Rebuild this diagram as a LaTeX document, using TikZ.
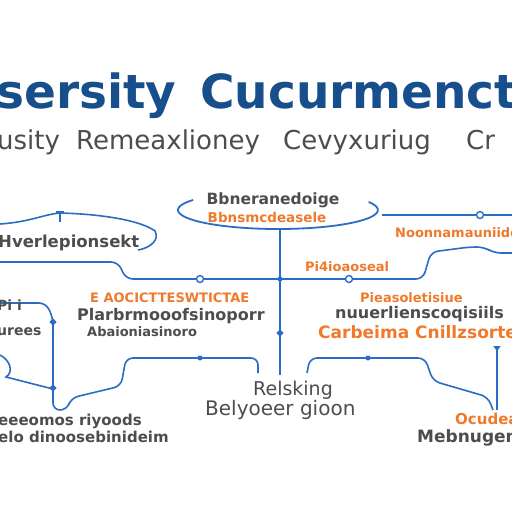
\documentclass[tikz,border=0pt]{standalone}
\usepackage{fontspec}
\setmainfont{DejaVu Sans}
\usetikzlibrary{arrows.meta,positioning}
\definecolor{titleblue}{HTML}{174E8C}
\definecolor{wireblue}{HTML}{2B6CC4}
\definecolor{accent}{HTML}{F07A2C}
\definecolor{textgray}{HTML}{4D4D4D}
\tikzset{
    headline/.style={
        font=\bfseries\fontsize{47}{47}\selectfont,
        color=titleblue,
        inner sep=0pt,
        anchor=base west
    },
    subline/.style={
        font=\fontsize{26}{26}\selectfont,
        color=textgray,
        inner sep=0pt,
        anchor=base west
    },
    graylabel/.style={
        font=\bfseries\fontsize{14}{14}\selectfont,
        color=textgray,
        inner sep=0pt,
        anchor=west
    },
    orangelabel/.style={
        font=\bfseries\fontsize{13}{13}\selectfont,
        color=accent,
        inner sep=0pt,
        anchor=west
    },
    wire/.style={
        wireblue,
        line width=1.6pt,
        rounded corners=7pt
    },
    knot/.style={
        circle,
        draw=wireblue,
        fill=white,
        line width=1.4pt,
        inner sep=0pt,
        minimum size=7pt
    },
    joint/.style={
        circle,
        fill=wireblue,
        inner sep=0pt,
        minimum size=5pt
    },
    stud/.style={
        rectangle,
        rotate=45,
        fill=wireblue,
        inner sep=0pt,
        minimum size=5pt
    }
}

\begin{document}
\begin{tikzpicture}[x=1pt,y=-1pt]

    % Fond
    \fill[white] (0,0) rectangle (512,512);
    \useasboundingbox (0,0) rectangle (512,512);

    % Titre
    \node[headline] (head1) at (-4,108) {sersity};
    \node[headline] (head2) at (200,108) {Cucurmenct};

    % Sous-titre
    \node[subline] (sub1) at (-3,149) {usity};
    \node[subline] (sub2) at (76,149) {Remeaxlioney};
    \node[subline] (sub3) at (283,149) {Cevyxuriug};
    \node[subline] (sub4) at (466,149) {Cr};

    % Ellipse centrale
    \draw[wireblue,line width=1.8pt]
        (278,210) ++(212:100 and 19)
        arc[start angle=212,end angle=-25,x radius=100,y radius=19];
    \node[graylabel,anchor=center,font=\bfseries\fontsize{15.5}{15.5}\selectfont]
        (hub) at (273,200) {Bbneranedoige};
    \node[orangelabel,anchor=center,font=\bfseries\fontsize{13.5}{13.5}\selectfont]
        (hubsub) at (267,217) {Bbnsmcdeasele};

    % Points de la ligne principale
    \coordinate (hubfoot) at (280,228);
    \coordinate (mainleft) at (0,262);
    \coordinate (mainright) at (512,253);
    \coordinate (upleft) at (382,215);
    \coordinate (upright) at (512,215);

    % Ligne principale
    \draw[wire]
        (mainleft) -- (118,262) -- (126,279) -- (423,279)
        -- (431,252) -- (470,247) -- (484,247) -- (494,253)
        -- (mainright);

    % Ligne haute droite
    \draw[wire] (upleft) -- (upright);

    % Tige centrale
    \coordinate (stem) at (280,375);
    \draw[wire] (hubfoot) -- (stem);

    % Colline gauche
    \draw[wireblue,line width=1.6pt]
        (0,224) .. controls (30,222) and (45,214) .. (60,213)
        .. controls (100,214) and (140,220) .. (155,231)
        .. controls (160,240) and (150,248) .. (138,250);
    \draw[wireblue,line width=1.4pt] (60,212) -- (60,222);
    \draw[wireblue,line width=1.4pt] (56,212) -- (64,212);
    \node[graylabel,font=\bfseries\fontsize{16.5}{16.5}\selectfont]
        (hill) at (-2,243) {Hverlepionsekt};

    % Colonne gauche
    \coordinate (coltop) at (0,303);
    \coordinate (colfoot) at (258,373);
    \draw[wire]
        (coltop) -- (46,303) -- (53,318) -- (53,410) -- (67,410)
        -- (71,398) -- (121,386) -- (126,358) -- (258,358) -- (colfoot);
    \draw[wireblue,line width=1.6pt]
        (0,355) .. controls (10,360) and (14,372) .. (6,377) -- (53,389);

    % Bas droite
    \coordinate (lowleft) at (307,373);
    \coordinate (lowright) at (493,410);
    \draw[wire]
        (lowleft) -- (310,358) -- (425,358) -- (433,381)
        -- (488,397) -- (lowright);
    \coordinate (droptop) at (497,346);
    \coordinate (dropfoot) at (497,410);
    \draw[wire,{Latex[reversed,length=6pt,width=8pt]}-] (droptop) -- (dropfoot);

    % Marqueurs
    \node[knot] (k1) at (200,279) {};
    \node[knot] (k2) at (349,279) {};
    \node[knot] (k3) at (480,215) {};
    \node[joint] (j1) at (280,279) {};
    \node[joint] (j2) at (368,358) {};
    \node[joint] (j3) at (200,358) {};
    \node[stud] (s1) at (280,333) {};
    \node[stud] (s2) at (53,322) {};
    \node[stud] (s3) at (53,388) {};

    % Etiquettes orange
    \node[orangelabel] (o1) at (395,233) {Noonnamauniidc};
    \node[orangelabel] (o2) at (305,267) {Pi4ioaoseal};
    \node[orangelabel] (o3) at (90,298) {E AOCICTTESWTICTAE};
    \node[orangelabel] (o4) at (360,298) {Pieasoletisiue};
    \node[orangelabel,font=\bfseries\fontsize{17}{17}\selectfont]
        (o5) at (318,332) {Carbeima Cnillzsorters};
    \node[orangelabel,font=\bfseries\fontsize{15}{15}\selectfont]
        (o6) at (455,419) {Ocudea};

    % Etiquettes grises
    \node[graylabel] (g1) at (-3,305) {Pi i};
    \node[graylabel] (g2) at (-3,332) {urees};
    \node[graylabel,font=\bfseries\fontsize{16}{16}\selectfont]
        (g3) at (77,316) {Plarbrmooofsinoporr};
    \node[graylabel,font=\bfseries\fontsize{13}{13}\selectfont]
        (g4) at (87,332) {Abaioniasinoro};
    \node[graylabel,font=\bfseries\fontsize{16}{16}\selectfont]
        (g5) at (335,314) {nuuerlienscoqisiils};
    \node[graylabel,font=\fontsize{19}{19}\selectfont]
        (g6) at (253,390) {Relsking};
    \node[graylabel,font=\fontsize{20}{20}\selectfont]
        (g7) at (205,410) {Belyoeer gioon};
    \node[graylabel,font=\bfseries\fontsize{15}{15}\selectfont]
        (g8) at (-2,421) {eeeomos riyoods};
    \node[graylabel,font=\bfseries\fontsize{15}{15}\selectfont]
        (g9) at (-2,437) {elo dinoosebinideim};
    \node[graylabel,font=\bfseries\fontsize{17}{17}\selectfont]
        (g10) at (417,438) {Mebnugenu};

\end{tikzpicture}
\end{document}
